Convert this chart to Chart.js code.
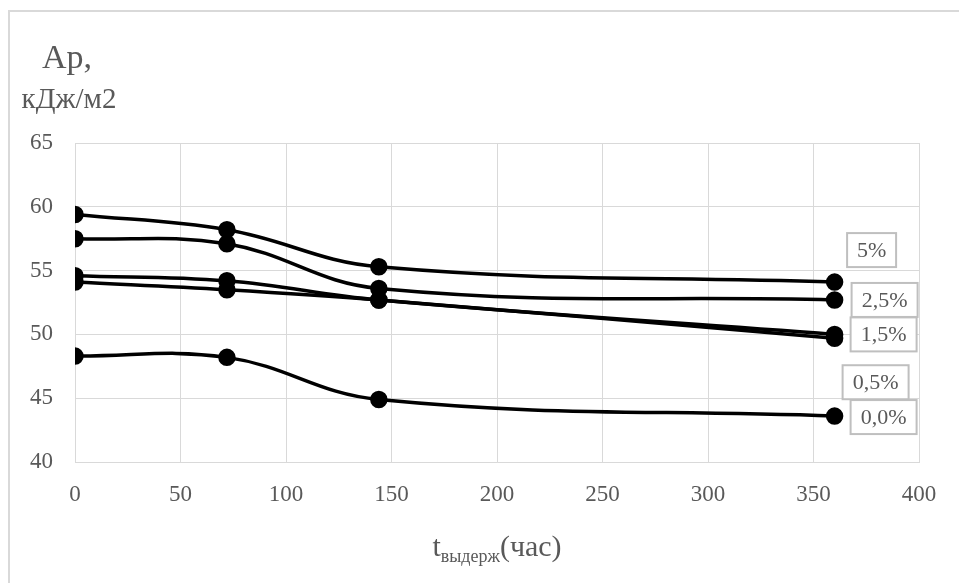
<!DOCTYPE html>
<html>
<head>
<meta charset="utf-8">
<script src="https://cdn.jsdelivr.net/npm/chart.js@4/dist/chart.umd.min.js"></script>
<style>
  body { margin: 0; background: #fff; }
  #wrap { position: relative; width: 959px; height: 583px; overflow: hidden; }
  #frame { position: absolute; left: 8px; top: 10px; width: 1000px; height: 571px;
           border-left: 2px solid #d9d9d9; border-top: 2px solid #d9d9d9; }
  canvas { position: absolute; left: 0; top: 0; }
</style>
</head>
<body>
<div id="wrap">
  <div id="frame"></div>
  <canvas id="myChart" width="959" height="583"></canvas>
</div>
<script>
// hours of exposure
const hours = [0, 72, 144, 360];
// Ар, кДж/м2 for each additive content
const ap5 = [59.4, 58.2, 55.3, 54.1];
const ap25 = [57.5, 57.1, 53.6, 52.7];
const ap15 = [54.6, 54.2, 52.7, 50.0];
const ap05 = [54.1, 53.5, 52.7, 49.7];
const ap0 = [48.3, 48.2, 44.9, 43.6];
const seriesNames = ["5%", "2,5%", "1,5%", "0,5%", "0,0%"];
const xTicks = [0, 50, 100, 150, 200, 250, 300, 350, 400];
const yTicks = [40, 45, 50, 55, 60, 65];

// label box offsets from the last point (px)
const labelOffsets = [
  { dx: 37, dy: -32, w: 49 },
  { dx: 50, dy: 0, w: 66 },
  { dx: 49, dy: 0, w: 66 },
  { dx: 41, dy: 44, w: 66 },
  { dx: 49, dy: 1, w: 66 },
];

const textColor = "#595959";
const gridColor = "#d9d9d9";
const serif = "'Liberation Serif', 'Times New Roman', serif";

const toPoints = (ys) => hours.map((x, i) => ({ x: x, y: ys[i] }));

const allSeries = [ap5, ap25, ap15, ap05, ap0];
const datasets = allSeries.map((ys, i) => ({
  label: seriesNames[i],
  data: toPoints(ys),
  borderColor: "#000",
  backgroundColor: "#000",
  pointBackgroundColor: "#000",
  pointBorderColor: "#000",
  pointRadius: 7,
  borderWidth: 3.5,
  tension: 0.4,
  fill: false,
}));

// text outside the plot: axis titles and series labels
const extraText = {
  id: "extraText",
  afterDatasetsDraw: (chart) => {
    const ctx = chart.ctx;
    ctx.save();
    // series label boxes
    chart.data.datasets.forEach((ds, i) => {
      const meta = chart.getDatasetMeta(i);
      const last = meta.data[meta.data.length - 1];
      const off = labelOffsets[i];
      const cx = last.x + off.dx;
      const cy = last.y + off.dy;
      const h = 34;
      ctx.fillStyle = "#fff";
      ctx.fillRect(cx - off.w / 2, cy - h / 2, off.w, h);
      ctx.strokeStyle = "#bfbfbf";
      ctx.lineWidth = 2;
      ctx.strokeRect(cx - off.w / 2, cy - h / 2, off.w, h);
      ctx.fillStyle = textColor;
      ctx.font = "22px " + serif;
      ctx.textAlign = "center";
      ctx.textBaseline = "middle";
      ctx.fillText(ds.label, cx, cy + 1);
    });

    // y axis title
    ctx.fillStyle = textColor;
    ctx.textAlign = "center";
    ctx.textBaseline = "alphabetic";
    ctx.font = "34px " + serif;
    ctx.fillText("Ар,", 67, 68);
    ctx.font = "29px " + serif;
    ctx.fillText("кДж/м2", 69, 108);

    // x axis title: t with subscript
    const baseY = 556;
    ctx.textAlign = "left";
    ctx.font = "30px " + serif;
    const t = "t";
    const tw = ctx.measureText(t).width;
    ctx.font = "18px " + serif;
    const sub = "выдерж";
    const sw = ctx.measureText(sub).width;
    ctx.font = "30px " + serif;
    const rest = "(час)";
    const rw = ctx.measureText(rest).width;
    let x0 = (chart.chartArea.left + chart.chartArea.right) / 2 - (tw + sw + rw) / 2;
    ctx.fillText(t, x0, baseY);
    ctx.font = "18px " + serif;
    ctx.fillText(sub, x0 + tw, baseY + 6);
    ctx.font = "30px " + serif;
    ctx.fillText(rest, x0 + tw + sw, baseY);
    ctx.restore();
  },
};

const ctx = document.getElementById("myChart");
new Chart(ctx, {
  type: "line",
  data: { datasets: datasets },
  options: {
    responsive: false,
    animation: false,
    layout: { padding: { left: 0, top: 143, right: 40, bottom: 0 } },
    scales: {
      x: {
        type: "linear",
        min: 0,
        max: 400,
        afterBuildTicks: (scale) => {
          scale.ticks = xTicks.map((v) => ({ value: v }));
        },
        afterFit: (scale) => {
          scale.height = 121;
        },
        grid: { color: gridColor, lineWidth: 1, drawTicks: false },
        border: { color: gridColor, width: 1 },
        ticks: {
          color: textColor,
          padding: 19,
          font: { family: serif, size: 23 },
        },
      },
      y: {
        min: 40,
        max: 65,
        afterBuildTicks: (scale) => {
          scale.ticks = yTicks.map((v) => ({ value: v }));
        },
        afterFit: (scale) => {
          scale.width = 75;
        },
        grid: { color: gridColor, lineWidth: 1, drawTicks: false },
        border: { color: gridColor, width: 1 },
        ticks: {
          color: textColor,
          padding: 22,
          font: { family: serif, size: 23 },
        },
      },
    },
    plugins: {
      legend: { display: false },
      tooltip: { enabled: false },
    },
  },
  plugins: [extraText],
});
</script>
</body>
</html>
